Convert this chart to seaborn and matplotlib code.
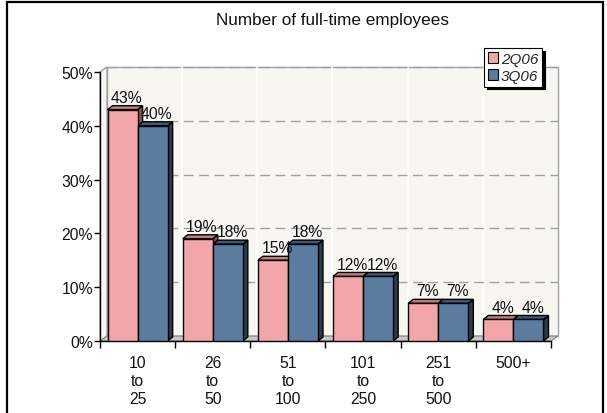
import matplotlib
matplotlib.use("Agg")
import matplotlib.pyplot as plt
import matplotlib.transforms as mtransforms
from matplotlib.patches import Polygon, Rectangle, Patch
import seaborn as sns
import pandas as pd
import numpy as np

# ---- data ----
categories = ["10\nto\n25", "26\nto\n50", "51\nto\n100", "101\nto\n250", "251\nto\n500", "500+"]
series_names = ["2Q06", "3Q06"]
values_2q06 = [43, 19, 15, 12, 7, 4]
values_3q06 = [40, 18, 18, 12, 7, 4]
yticks = [0, 10, 20, 30, 40, 50]
title = "Number of full-time employees"

pink, pink_top, pink_side = "#f2a6aa", "#c07b7f", "#8a5356"
blue, blue_top, blue_side = "#5b7b9f", "#3e5874", "#2a3b4e"
wall = "#f7f6f1"

df = pd.DataFrame({
    "cat": categories * 2,
    "series": [series_names[0]] * len(categories) + [series_names[1]] * len(categories),
    "val": values_2q06 + values_3q06,
})

sns.set_theme(style="white")
plt.rcParams["font.family"] = ["Liberation Sans", "DejaVu Sans"]

W, H = 607, 414
fig = plt.figure(figsize=(W / 100, H / 100), dpi=100)
ax = fig.add_axes([100 / W, (H - 342) / H, (551 - 100) / W, (342 - 73) / H])
ax.patch.set_visible(False)

sns.barplot(data=df, x="cat", y="val", hue="series", palette=[pink, blue],
            edgecolor="black", linewidth=1.0, width=0.8, ax=ax, legend=False,
            saturation=1, zorder=5)
ax.set_xlim(-0.5, len(categories) - 0.5)
ax.set_ylim(0, 50)

# wall depth offsets (pixels)
wdx, wdy = 7, 5
bdx, bdy = 5, 4
wall_tr = mtransforms.offset_copy(ax.transData, fig=fig, x=wdx, y=wdy, units="dots")
ident = mtransforms.IdentityTransform()

n = len(categories)
# back wall
ax.add_patch(Rectangle((-0.5, 0), n, 50, transform=wall_tr, facecolor=wall,
                       edgecolor="#a0a0a0", linewidth=1, zorder=0, clip_on=False))
# side wall
def disp(x, y):
    return ax.transData.transform((x, y))
fl = disp(-0.5, 0); tl = disp(-0.5, 50); fr = disp(n - 0.5, 0)
ax.add_patch(Polygon([fl, tl, tl + [wdx, wdy], fl + [wdx, wdy]], closed=True,
                     transform=ident, facecolor=wall, edgecolor="#a0a0a0",
                     linewidth=1, zorder=0.5, clip_on=False))
# floor
ax.add_patch(Polygon([fl, fr, fr + [wdx, wdy], fl + [wdx, wdy]], closed=True,
                     transform=ident, facecolor="#c8c8c8", edgecolor="#808080",
                     linewidth=0.8, zorder=1, clip_on=False))
# vertical white separators on back wall
for b in np.arange(0.5, n - 0.5, 1):
    ax.plot([b, b], [0, 50], color="white", lw=1.2, transform=wall_tr, zorder=0.6, clip_on=False)
# dashed gridlines on back wall
for yv in yticks[1:]:
    ax.plot([-0.5, n - 0.5], [yv, yv], color="#a0a0a0", lw=1.0, ls=(0, (7, 4)),
            transform=wall_tr, zorder=0.7, clip_on=False)

# 3D faces for bars
bars = [p for p in ax.patches if isinstance(p, Rectangle) and p.get_height() > 0
        and p.get_zorder() == 5]
bars_sorted = sorted(bars, key=lambda p: p.get_x())
for p in bars_sorted:
    fc = matplotlib.colors.to_hex(p.get_facecolor())
    is_pink = fc.lower() == pink
    top_c = pink_top if is_pink else blue_top
    side_c = pink_side if is_pink else blue_side
    x0, x1 = p.get_x(), p.get_x() + p.get_width()
    h = p.get_height()
    a = disp(x0, h); b = disp(x1, h); c = disp(x1, 0)
    off = np.array([bdx, bdy])
    ax.add_patch(Polygon([c, b, b + off, c + off], closed=True, transform=ident,
                         facecolor=side_c, edgecolor="black", lw=1.0, zorder=3, clip_on=False))
    ax.add_patch(Polygon([a, b, b + off, a + off], closed=True, transform=ident,
                         facecolor=top_c, edgecolor="black", lw=1.0, zorder=3, clip_on=False))
    ax.annotate(f"{int(round(h))}%", (x0 + p.get_width() / 2, h), xytext=(3, 3.5),
                textcoords="offset points", ha="center", va="bottom",
                fontsize=11.3, color="#111111", zorder=6)

# axes styling
for s in ["top", "right"]:
    ax.spines[s].set_visible(False)
for s in ["left", "bottom"]:
    ax.spines[s].set_color("black")
    ax.spines[s].set_linewidth(1.0)
    ax.spines[s].set_zorder(4)
ax.set_yticks(yticks)
ax.set_yticklabels([f"{v}%" for v in yticks], fontsize=11.3, color="#111111")
ax.tick_params(axis="y", direction="out", length=4, width=1, color="black", pad=1, left=True)
ax.set_xticks(range(n))
ax.set_xticklabels(categories, fontsize=11.3, color="#111111", linespacing=1.27)
ax.tick_params(axis="x", which="major", length=0, pad=10)
ax.set_xticks(np.arange(-0.5, n, 1), minor=True)
ax.tick_params(axis="x", which="minor", direction="out", length=5, width=1, color="black", bottom=True)
ax.set_xlabel("")
ax.set_ylabel("")

# title
fig.text(332 / W, 1 - 20 / H, title, ha="center", va="center", fontsize=12.3, color="#111111")

# legend
handles = [Patch(facecolor=pink, edgecolor="black", lw=0.8),
           Patch(facecolor=blue, edgecolor="black", lw=0.8)]
leg = ax.legend(handles, series_names, loc="upper left",
                bbox_to_anchor=(484 / W, 1 - 49 / H), bbox_transform=fig.transFigure,
                frameon=True, fancybox=False, shadow={"color": "black", "alpha": 1},
                prop={"style": "italic", "size": 11},
                handlelength=0.65, handleheight=0.65, handletextpad=0.2,
                borderpad=0.25, labelspacing=0.2, borderaxespad=0)
leg.get_frame().set_edgecolor("black")
leg.get_frame().set_linewidth(0.8)
leg.set_zorder(10)

# outer frame
fig.add_artist(Rectangle((7 / W, -0.02), (603 - 7) / W, 1.02 - 2.5 / H, transform=fig.transFigure,
                         fill=False, edgecolor="black", linewidth=1.6))

fig.savefig("out.png", dpi=100)
